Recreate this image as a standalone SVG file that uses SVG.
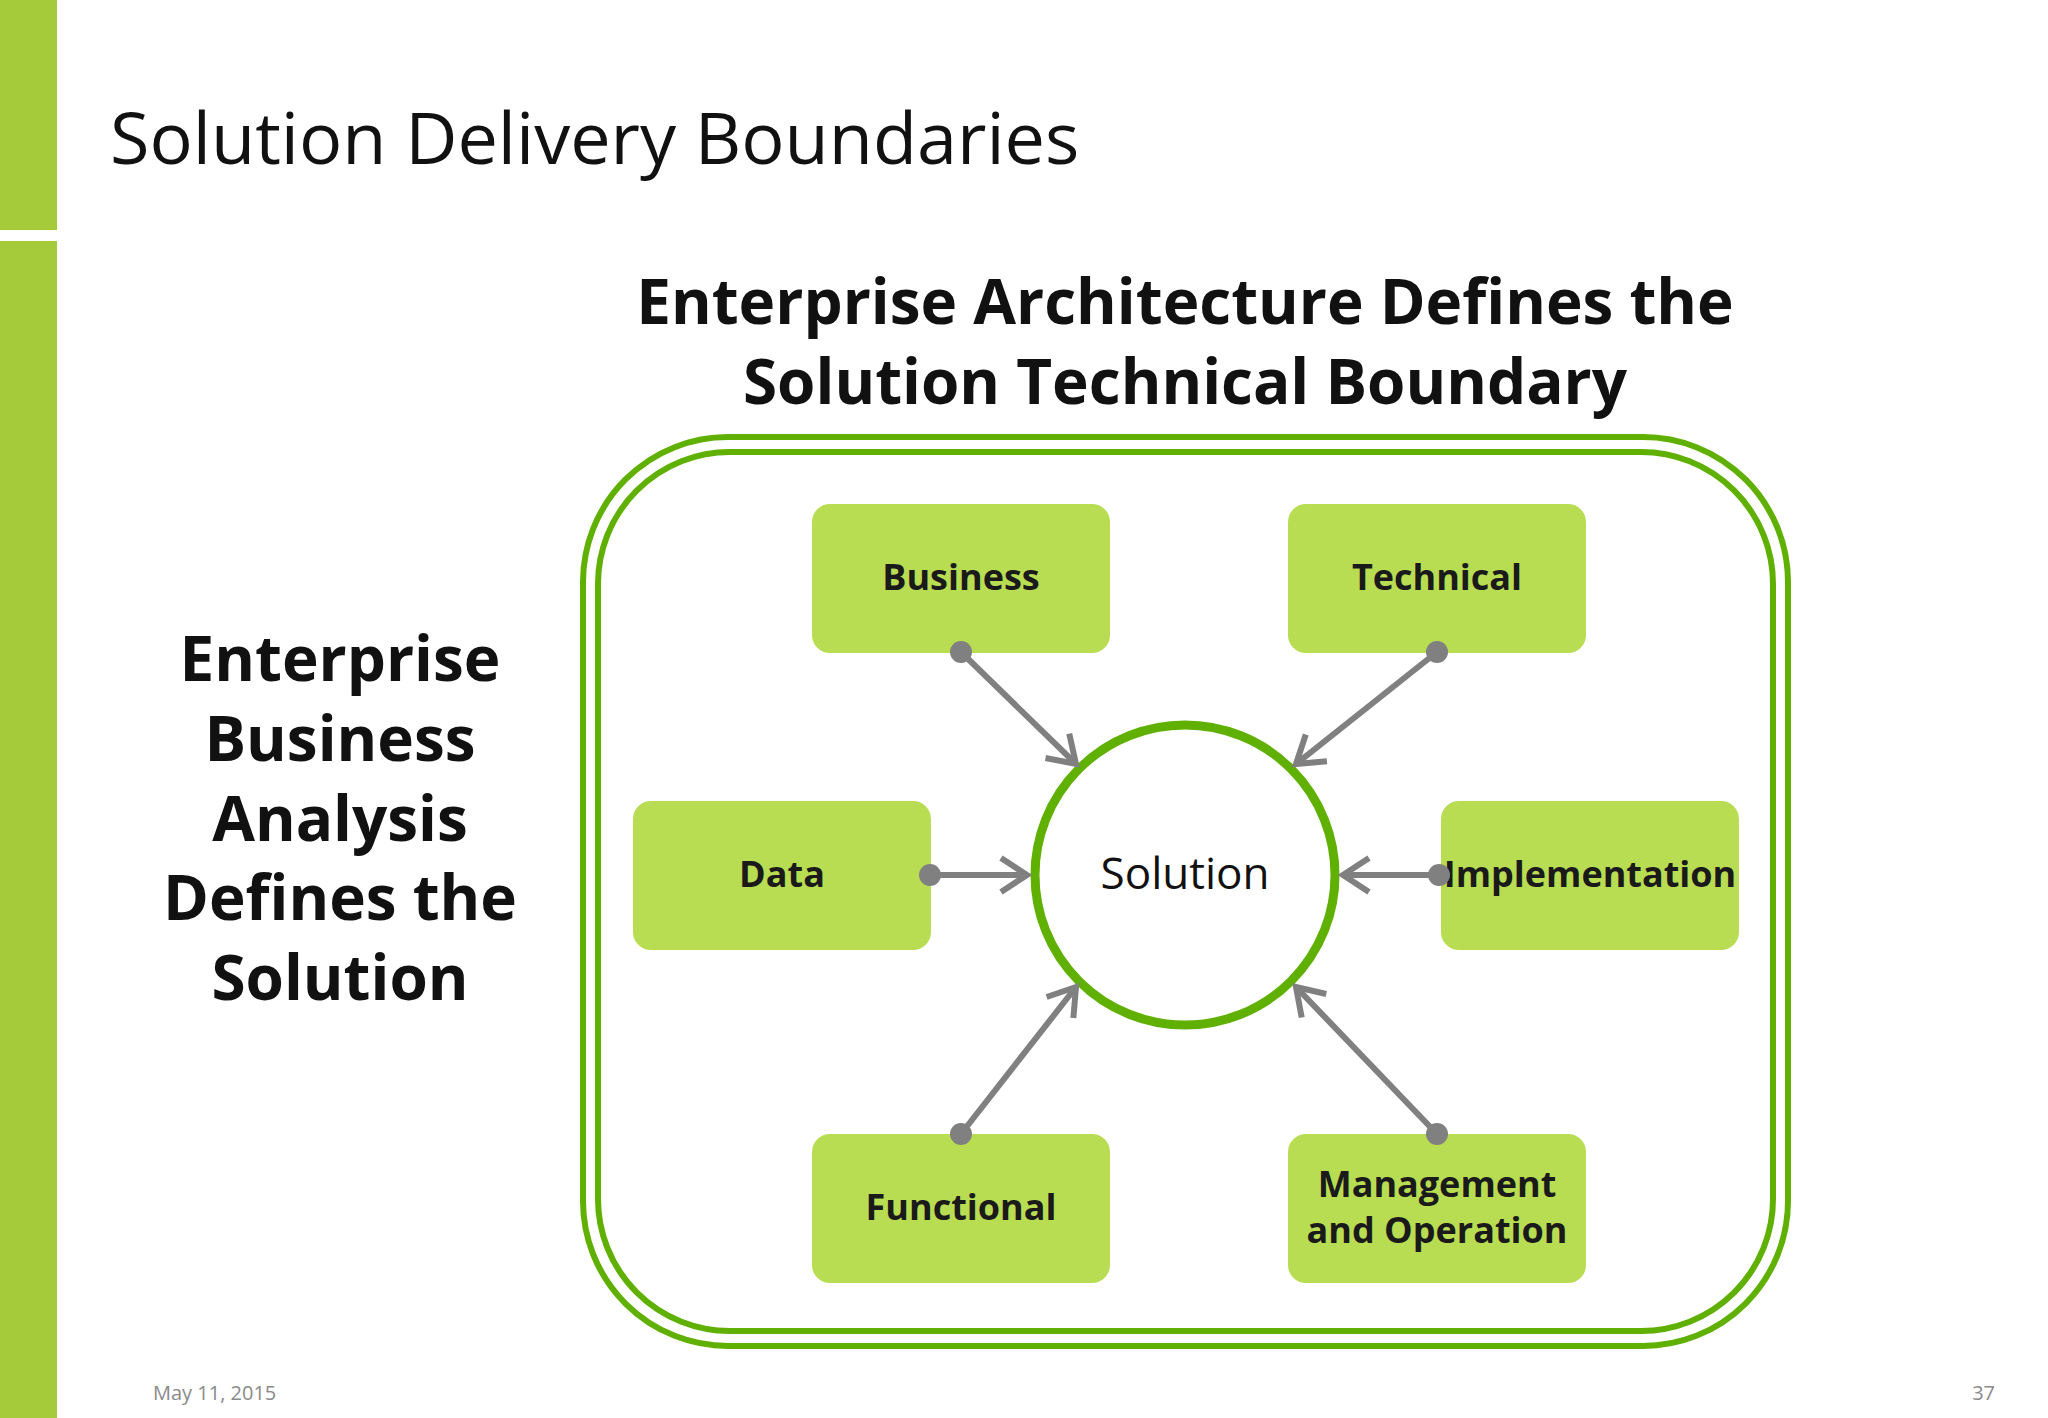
<svg xmlns="http://www.w3.org/2000/svg" width="2048" height="1418" viewBox="0 0 2048 1418">
<style>
.box{fill:#b8dc52}
.bt{font-family:"Open Sans","Liberation Sans",sans-serif;font-weight:bold;font-size:36px;fill:#1a1a1a;text-anchor:middle}
.big{font-family:"Open Sans","Liberation Sans",sans-serif;font-weight:bold;font-size:62px;fill:#111;text-anchor:middle}
.con{stroke:#808080;stroke-width:6;fill:none}
</style>
<defs>
<marker id="arr" markerUnits="userSpaceOnUse" markerWidth="50" markerHeight="50" refX="38" refY="25" orient="auto">
<polyline points="12,8 38,25 12,42" fill="none" stroke="#808080" stroke-width="6"/>
</marker>
<marker id="dot" markerUnits="userSpaceOnUse" markerWidth="30" markerHeight="30" refX="15" refY="15">
<circle cx="15" cy="15" r="11" fill="#808080"/>
</marker>
</defs>
<rect width="2048" height="1418" fill="#fff"/>
<rect x="0" y="0" width="57" height="230" fill="#a5cb3a"/>
<rect x="0" y="241" width="57" height="1177" fill="#a5cb3a"/>
<text x="110" y="164" font-family="Open Sans, Liberation Sans, sans-serif" font-size="72" fill="#111">Solution Delivery Boundaries</text>
<text class="big" x="1185" y="324">Enterprise Architecture Defines the</text>
<text class="big" x="1185" y="404">Solution Technical Boundary</text>
<g id="left-text">
<text class="big" x="340" y="681">Enterprise</text>
<text class="big" x="340" y="761">Business</text>
<text class="big" x="340" y="841">Analysis</text>
<text class="big" x="340" y="920">Defines the</text>
<text class="big" x="340" y="1000">Solution</text>
</g>
<g id="boundary" fill="none" stroke="#5fb000" stroke-width="6">
<rect x="583" y="437" width="1205" height="909" rx="145"/>
<rect x="598" y="452" width="1175" height="879" rx="132"/>
</g>
<g id="business"><rect class="box" x="812" y="504" width="298" height="149" rx="18"/><text class="bt" x="961" y="590">Business</text></g>
<g id="technical"><rect class="box" x="1288" y="504" width="298" height="149" rx="18"/><text class="bt" x="1437" y="590">Technical</text></g>
<g id="data"><rect class="box" x="633" y="801" width="298" height="149" rx="18"/><text class="bt" x="782" y="887">Data</text></g>
<g id="implementation"><rect class="box" x="1441" y="801" width="298" height="149" rx="18"/><text class="bt" x="1590" y="887">Implementation</text></g>
<g id="functional"><rect class="box" x="812" y="1134" width="298" height="149" rx="18"/><text class="bt" x="961" y="1220">Functional</text></g>
<g id="management"><rect class="box" x="1288" y="1134" width="298" height="149" rx="18"/><text class="bt" x="1437" y="1197">Management</text><text class="bt" x="1437" y="1243">and Operation</text></g>
<g id="solution"><circle cx="1185" cy="875" r="150" fill="#fff" stroke="#5fb000" stroke-width="9"/><text x="1185" y="889" text-anchor="middle" font-family="Open Sans, Liberation Sans, sans-serif" font-size="44" fill="#111">Solution</text></g>
<g id="connectors" class="con">
<line class="con" x1="961" y1="652" x2="1076" y2="764" marker-start="url(#dot)" marker-end="url(#arr)"/>
<line class="con" x1="1437" y1="652" x2="1296" y2="764" marker-start="url(#dot)" marker-end="url(#arr)"/>
<line class="con" x1="930" y1="875" x2="1027" y2="875" marker-start="url(#dot)" marker-end="url(#arr)"/>
<line class="con" x1="1439" y1="875" x2="1343" y2="875" marker-start="url(#dot)" marker-end="url(#arr)"/>
<line class="con" x1="961" y1="1134" x2="1076" y2="987" marker-start="url(#dot)" marker-end="url(#arr)"/>
<line class="con" x1="1437" y1="1134" x2="1296" y2="987" marker-start="url(#dot)" marker-end="url(#arr)"/>
</g>
<text x="153" y="1400" font-family="Open Sans, Liberation Sans, sans-serif" font-size="20" fill="#8a8a8a">May 11, 2015</text>
<text x="1995" y="1400" text-anchor="end" font-family="Open Sans, Liberation Sans, sans-serif" font-size="20" fill="#8a8a8a">37</text>
</svg>
